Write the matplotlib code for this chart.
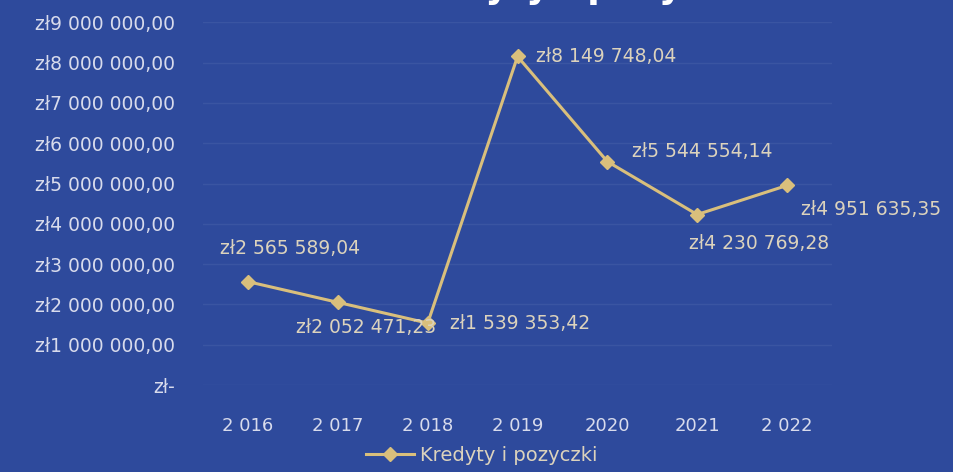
import numpy as np
import matplotlib.pyplot as plt

years = ["2 016", "2 017", "2 018", "2 019", "2020", "2021", "2 022"]
values = [2565589.04, 2052471.23, 1539353.42, 8149748.04, 5544554.14, 4230769.28, 4951635.35]
y_ticks = [0, 1e6, 2e6, 3e6, 4e6, 5e6, 6e6, 7e6, 8e6, 9e6]
series_name = "Kredyty i pozyczki"
title = "Kredyty i pożyczki"

# label offsets in points (dx, dy), per point
label_pos = [
    (-20, 24),
    (-30, -18),
    (16, 0),
    (13, 0),
    (18, 7),
    (-6, -21),
    (10, -17),
]

BG = "#2e4a9c"
GOLD = "#d9bf7c"
TXT = "#d8dbec"
LBL = "#dcd3bd"

plt.rcParams["font.family"] = ["DejaVu Sans"]


def fmt_pln(v):
    if v == 0:
        return "zł-"
    s = f"{v:,.2f}"
    whole, frac = s.split(".")
    return "zł" + whole.replace(",", " ") + "," + frac


def main():
    fig = plt.figure(figsize=(9.54, 4.72), dpi=100, facecolor=BG)
    ax = fig.add_axes([0.213, 0.184, 0.659, 0.769])
    ax.set_facecolor(BG)

    x = np.arange(len(years))
    ax.plot(x, values, color=GOLD, lw=2.2, marker="D", ms=7, label=series_name)

    for xi, v, off in zip(x, values, label_pos):
        ax.annotate(fmt_pln(v), (xi, v), xytext=off, textcoords="offset points",
                    ha="left", va="center", color=LBL, fontsize=13.5)

    ax.set_xlim(-0.5, len(years) - 0.5)
    ax.set_ylim(0, 9e6)
    ax.set_xticks(x)
    ax.set_xticklabels(years)
    ax.set_yticks(y_ticks)
    ax.set_yticklabels([fmt_pln(v) for v in y_ticks])
    ax.tick_params(axis="y", length=0, pad=20, labelcolor=TXT, labelsize=13.5)
    ax.tick_params(axis="x", length=0, pad=23, labelcolor=TXT, labelsize=13)
    ax.grid(axis="y", color="#4d66ad", lw=1, alpha=0.4)
    for s in ax.spines.values():
        s.set_visible(False)

    # title is cropped at the top edge in the source image
    fig.text(0.603, 1.004, title, ha="center", va="baseline", color="white",
             fontsize=26, fontweight="bold")

    leg = fig.legend(loc="center", bbox_to_anchor=(0.505, 0.035), frameon=False,
                     fontsize=14, handlelength=2.5, handletextpad=0.3)
    for t in leg.get_texts():
        t.set_color(LBL)

    fig.savefig("out.png", dpi=100, facecolor=BG)


if __name__ == "__main__":
    main()
